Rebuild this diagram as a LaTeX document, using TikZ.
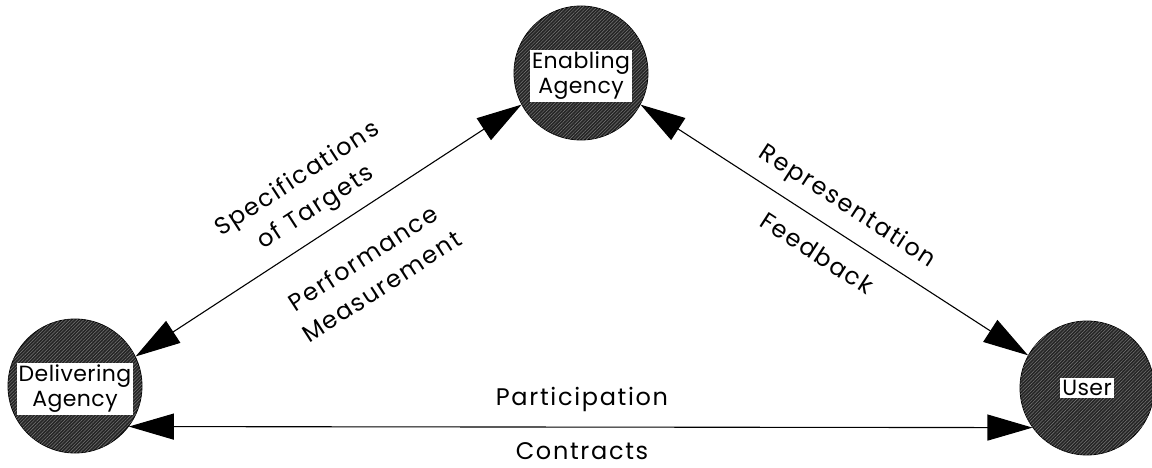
\documentclass[tikz,border=0pt]{standalone}
\usepackage{fontspec}
\setmainfont{Poppins}
\newfontfamily\lblfont{Poppins}[LetterSpace=7]
\newfontfamily\boxfont{Poppins}[LetterSpace=2]
\usetikzlibrary{arrows.meta,patterns.meta}
\definecolor{circfill}{HTML}{262626}
\definecolor{hatchc}{HTML}{7A7A7A}
\tikzset{
  agent/.style={circle, minimum size=134pt, inner sep=0pt, draw=black, line width=0.8pt,
    fill=circfill, postaction={pattern={Lines[angle=45,distance=2.4pt,line width=0.45pt]}, pattern color=hatchc}},
  boxlab/.style={fill=white, align=center, inner sep=2pt, font=\boxfont\fontsize{22}{25}\selectfont},
  rel/.style={line width=1.1pt, {Triangle[length=45pt,width=26pt]}-{Triangle[length=45pt,width=26pt]}},
  txt/.style={align=center, font=\lblfont\fontsize{24}{34}\selectfont, inner sep=0pt}
}
\begin{document}
\begin{tikzpicture}[x=1pt,y=-1pt]
\useasboundingbox (0,0) rectangle (1152,468);
\node[agent] (E) at (581,73) {};
\node[agent] (D) at (75,386) {};
\node[agent] (U) at (1087,388) {};
\node[boxlab] (EL) at (581,76) {Enabling\\Agency};
\node[boxlab] (DL) at (75,389) {Delivering\\Agency};
\node[boxlab] (UL) at (1087,388) {User};
\draw[rel] (D.26.6) -- (E.208.9);
\draw[rel] (E.-28.8) -- (U.151.5);
\draw[rel] (D.-37) -- (U.216);
\node[txt, rotate=33] (spec) at (307,194) {Specifications\\of Targets};
\node[txt, rotate=33] (perf) at (372,272) {Performance\\Measurement};
\node[txt, rotate=-33] (repr) at (847,207) {Representation};
\node[txt, rotate=-33] (feed) at (817,253) {Feedback};
\node[txt] (part) at (582,399) {Participation};
\node[txt] (cont) at (582,451) {Contracts};
\end{tikzpicture}
\end{document}
